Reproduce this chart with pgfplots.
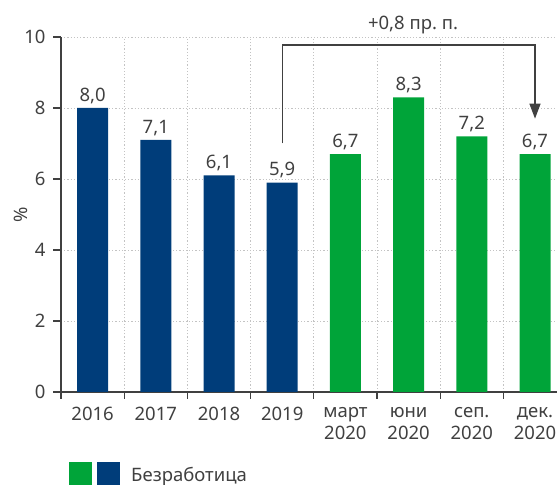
\documentclass[border=0pt]{standalone}
\usepackage{fontspec}
\setmainfont{Noto Sans}
\usepackage{pgfplots}
\pgfplotsset{compat=1.18}
\usetikzlibrary{arrows.meta}
\definecolor{barblue}{RGB}{0,61,122}
\definecolor{bargreen}{RGB}{0,164,57}
\definecolor{txt}{RGB}{64,64,64}
\definecolor{gridc}{RGB}{195,195,195}
\newcommand{\cf}{\fontsize{18.5bp}{22bp}\selectfont}
\begin{document}
\begin{tikzpicture}[font=\cf]
\useasboundingbox (0,0) rectangle (557bp,485bp);
\begin{axis}[
  at={(61bp,93bp)}, anchor=south west,
  width=505.6bp, height=355bp, scale only axis,
  xmin=-0.5, xmax=7.5, ymin=0, ymax=10,
  axis x line*=bottom, axis y line*=left,
  axis line style={txt, line width=1.2bp},
  xtick={0,...,7},
  xticklabels={2016,2017,2018,2019,{март\\2020},{юни\\2020},{сеп.\\2020},{дек.\\2020}},
  xticklabel style={align=center, text=txt, font=\cf, yshift=-4bp},
  yticklabel style={text=txt, font=\cf, xshift=-4bp},
  major x tick style={draw=none},
  minor xtick={-0.5,0.5,...,7.5},
  xminorgrids,
  ytick={0,2,...,10},
  ymajorgrids,
  grid style={gridc, line width=0.8bp, dash pattern=on 1.2bp off 2bp},
  minor x tick style={txt, line width=1.2bp},
  major y tick style={txt, line width=1.2bp},
  tick align=outside,
  major tick length=8bp, minor tick length=7bp,
  /pgf/number format/assume math mode=true,
  clip=false,
  nodes near coords={\pgfmathprintnumber[fixed,fixed zerofill,precision=1,use comma,assume math mode=true]{\pgfplotspointmeta}},
  nodes near coords style={text=txt, font=\cf, anchor=south, inner sep=4bp},
]
\addplot[ybar, bar width=31bp, bar shift=0pt, fill=barblue, draw=none] coordinates {(0,8.0) (1,7.1) (2,6.1) (3,5.9)};
\addplot[ybar, bar width=31bp, bar shift=0pt, fill=bargreen, draw=none] coordinates {(4,6.7) (5,8.3) (6,7.2) (7,6.7)};
\draw[txt, line width=1.4bp, -{Triangle[length=15bp, width=11bp]}] (axis cs:3,7.0) |- (axis cs:7,9.77) -- (axis cs:7,7.70);
\node[text=txt, anchor=base, font=\cf] at (axis cs:5.07,10.2) {+0,8 пр.\ п.};
\end{axis}
\node[rotate=90, text=txt, font=\cf] at (21bp,270bp) {\%};
\fill[bargreen] (69bp,0bp) rectangle (92bp,23bp);
\fill[barblue] (97bp,0bp) rectangle (120bp,23bp);
\node[text=txt, anchor=base west, inner sep=0pt, font=\cf] at (131bp,4bp) {Безработица};
\end{tikzpicture}
\end{document}
